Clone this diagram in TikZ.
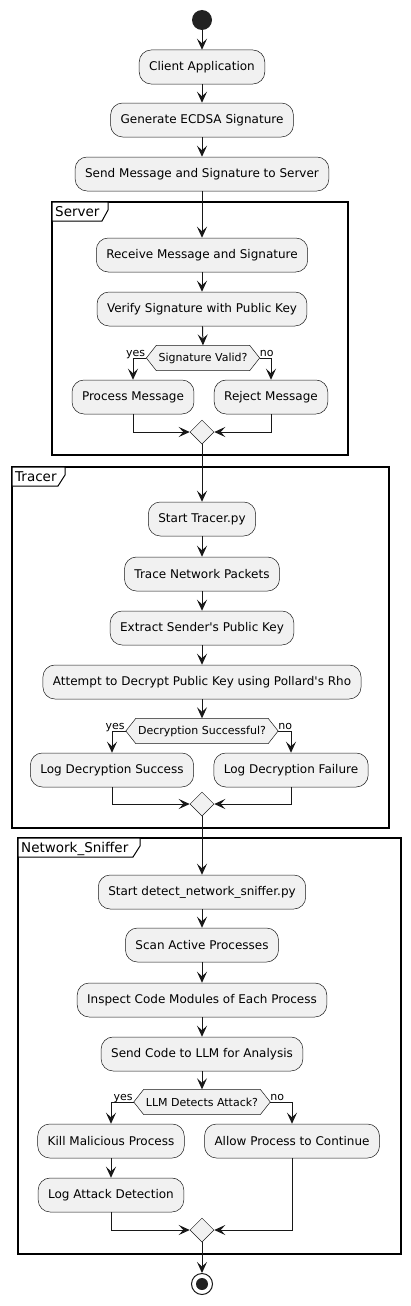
\documentclass[tikz,border=0pt]{standalone}
\usepackage{fontspec}
\setmainfont{DejaVu Sans}[Ligatures=TeXOff]
\usetikzlibrary{arrows.meta,shapes.geometric,backgrounds}
\definecolor{boxfill}{HTML}{F1F1F1}
\definecolor{ln}{HTML}{181818}
\definecolor{startc}{HTML}{222222}
\begin{document}
\begin{tikzpicture}[x=1pt,y=-1pt,
  act/.style={draw=ln, line width=0.5pt, fill=boxfill, rounded corners=12pt, minimum height=34pt, inner xsep=10pt, inner ysep=0pt, font=\fontsize{12}{14}\selectfont},
  dec/.style={inner xsep=2pt, inner ysep=0pt, minimum height=25pt, font=\fontsize{11}{13}\selectfont},
  hexa/.style={draw=ln, line width=0.5pt, fill=boxfill},
  merge/.style={diamond, draw=ln, line width=0.5pt, fill=boxfill, minimum width=24pt, minimum height=24pt, inner sep=0pt},
  arr/.style={draw=ln, line width=1pt, -{Stealth[length=11pt,width=10pt,inset=4.5pt]}},
  frm/.style={draw=black, line width=1.5pt},
  tab/.style={draw=black, line width=1pt, fill=white},
  lab/.style={font=\fontsize{11}{13}\selectfont, inner sep=0pt},
  ftitle/.style={font=\fontsize{13.5}{16}\selectfont, inner sep=0pt, anchor=base west}
]
\useasboundingbox (0,0) rectangle (410,1306);

% frames
\draw[frm] (52,202) rectangle (348,455);
\draw[tab] (52,202) -- (108,202) -- (108,210) -- (102,221) -- (52,221) -- cycle;
\node[ftitle] (fserver) at (55,216) {Server};

\draw[frm] (12,467) rectangle (389,828);
\draw[tab] (12,467) -- (65,467) -- (65,475) -- (58,486) -- (12,486) -- cycle;
\node[ftitle] (ftracer) at (15,481) {Tracer};

\draw[frm] (18,838) rectangle (401,1254);
\draw[tab] (18,838) -- (140,838) -- (140,846) -- (133,857) -- (18,857) -- cycle;
\node[ftitle] (fsniff) at (21,852) {Network\_Sniffer};

% nodes
\node[circle, fill=startc, minimum size=20pt, inner sep=0pt] (start) at (202,20) {};
\node[act] (a1) at (202,67) {Client Application};
\node[act] (a2) at (202,120) {Generate ECDSA Signature};
\node[act] (a3) at (202,174) {Send Message and Signature to Server};

\node[act] (s1) at (202,255) {Receive Message and Signature};
\node[act] (s2) at (202,309) {Verify Signature with Public Key};
\node[dec] (d1) at (203,358) {Signature Valid?};
\node[act] (p1) at (133,397) {Process Message};
\node[act] (r1) at (271,397) {Reject Message};
\node[merge] (m1) at (202,432) {};

\node[act] (t1) at (202,519) {Start Tracer.py};
\node[act] (t2) at (202,574) {Trace Network Packets};
\node[act] (t3) at (202,628) {Extract Sender's Public Key};
\node[act] (t4) at (202,682) {Attempt to Decrypt Public Key using Pollard's Rho};
\node[dec] (d2) at (202,731) {Decryption Successful?};
\node[act] (t5) at (112,770) {Log Decryption Success};
\node[act] (t6) at (291,770) {Log Decryption Failure};
\node[merge] (m2) at (202,804) {};

\node[act] (n1) at (202,892) {Start detect\_network\_sniffer.py};
\node[act] (n2) at (202,945) {Scan Active Processes};
\node[act] (n3) at (202,1000) {Inspect Code Modules of Each Process};
\node[act] (n4) at (202,1054) {Send Code to LLM for Analysis};
\node[dec] (d3) at (202,1102) {LLM Detects Attack?};
\node[act] (n5) at (111,1141) {Kill Malicious Process};
\node[act] (n6) at (292,1141) {Allow Process to Continue};
\node[act] (n7) at (111,1195) {Log Attack Detection};
\node[merge] (m3) at (202,1230) {};

\node[circle, draw=ln, line width=1pt, fill=white, minimum size=21pt, inner sep=0pt] (endo) at (202,1284) {};
\node[circle, fill=startc, minimum size=12pt, inner sep=0pt] (endi) at (endo) {};

% decision tips
\foreach \d in {d1,d2,d3}{
  \coordinate (\d l) at ([xshift=-10pt]\d.west);
  \coordinate (\d r) at ([xshift=10pt]\d.east);
}
\begin{scope}[on background layer]
\foreach \d in {d1,d2,d3}{
  \draw[hexa] (\d l) -- (\d.north west) -- (\d.north east) -- (\d r) -- (\d.south east) -- (\d.south west) -- cycle;
}
\end{scope}

% connectors
\draw[arr] (start) -- (a1);
\draw[arr] (a1) -- (a2);
\draw[arr] (a2) -- (a3);
\draw[arr] (a3) -- (s1);
\draw[arr] (s1) -- (s2);
\draw[arr] (s2) -- (d1.north);
\draw[arr] (d1l) -| (p1.north);
\draw[arr] (d1r) -| (r1.north);
\draw[arr] (p1.south) |- (m1.west);
\draw[arr] (r1.south) |- (m1.east);
\draw[arr] (m1) -- (t1);
\draw[arr] (t1) -- (t2);
\draw[arr] (t2) -- (t3);
\draw[arr] (t3) -- (t4);
\draw[arr] (t4) -- (d2.north);
\draw[arr] (d2l) -| (t5.north);
\draw[arr] (d2r) -| (t6.north);
\draw[arr] (t5.south) |- (m2.west);
\draw[arr] (t6.south) |- (m2.east);
\draw[arr] (m2) -- (n1);
\draw[arr] (n1) -- (n2);
\draw[arr] (n2) -- (n3);
\draw[arr] (n3) -- (n4);
\draw[arr] (n4) -- (d3.north);
\draw[arr] (d3l) -| (n5.north);
\draw[arr] (d3r) -| (n6.north);
\draw[arr] (n5) -- (n7);
\draw[arr] (n7.south) |- (m3.west);
\draw[arr] (n6.south) |- (m3.east);
\draw[arr] (m3) -- (endo);

% labels
\node[lab, anchor=base east] (y1) at ([xshift=-1pt,yshift=2pt]d1l) {yes};
\node[lab, anchor=base west] (no1) at ([xshift=0pt,yshift=2pt]d1r) {no};
\node[lab, anchor=base east] (y2) at ([xshift=-1pt,yshift=2pt]d2l) {yes};
\node[lab, anchor=base west] (no2) at ([xshift=0pt,yshift=2pt]d2r) {no};
\node[lab, anchor=base east] (y3) at ([xshift=-1pt,yshift=2pt]d3l) {yes};
\node[lab, anchor=base west] (no3) at ([xshift=0pt,yshift=2pt]d3r) {no};
\end{tikzpicture}
\end{document}
